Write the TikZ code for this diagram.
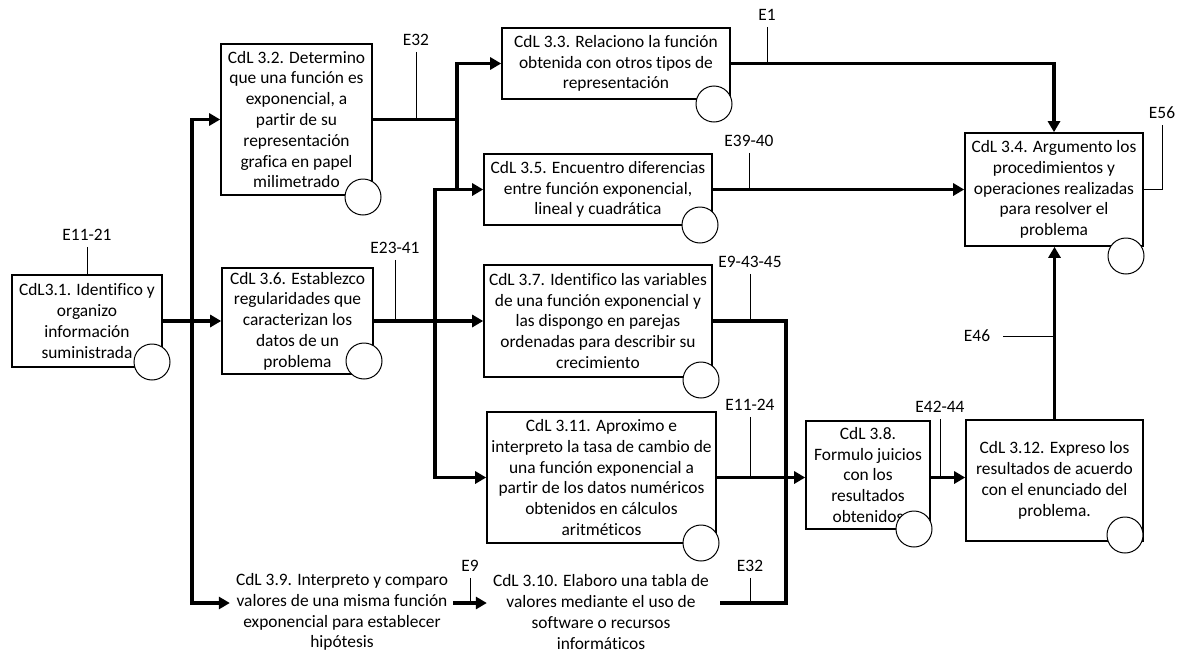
\documentclass[tikz,border=0pt]{standalone}
\usepackage{fontspec}
\setmainfont{Carlito}[RawFeature={-liga;-clig;-calt;-dlig}]
\usetikzlibrary{arrows.meta}
\begin{document}
\begin{tikzpicture}[x=1pt,y=-1pt,
  every node/.style={font=\fontsize{17.4pt}{20.8pt}\selectfont},
  box/.style={draw, line width=1.6pt, fill=white, align=center, inner sep=0pt},
  plain/.style={align=center, inner xsep=6pt, inner ysep=0pt},
  elab/.style={inner xsep=2pt, inner ysep=6pt},
  conn/.style={line width=3.2pt, line cap=rect, line join=miter},
  arr/.style={conn, -{Triangle[length=11pt,width=12pt]}},
  lead/.style={line width=1pt},
  bubble/.style={circle, draw, line width=1pt, fill=white, minimum size=36pt, inner sep=0pt}]
\fill[white] (0,0) rectangle (1179,656);
\useasboundingbox (0,0) rectangle (1179,656);

% boxes
\node[box, minimum width=150pt, minimum height=92pt] (b31) at (87,321)
  {CdL3.1. Identifico y\\organizo\\información\\suministrada};
\node[box, minimum width=151pt, minimum height=151pt] (b32) at (296.5,119.5)
  {CdL 3.2. Determino\\que una función es\\exponencial, a\\partir de su\\representación\\grafica en papel\\milimetrado};
\node[box, minimum width=228pt, minimum height=71pt] (b33) at (616,63.5)
  {CdL 3.3. Relaciono la función\\obtenida con otros tipos de\\representación};
\node[box, minimum width=178pt, minimum height=113pt] (b34) at (1054,189.5)
  {CdL 3.4. Argumento los\\procedimientos y\\operaciones realizadas\\para resolver el\\problema};
\node[box, minimum width=228pt, minimum height=71pt] (b35) at (598,189.5)
  {CdL 3.5. Encuentro diferencias\\entre función exponencial,\\lineal y cuadrática};
\node[box, minimum width=151pt, minimum height=106pt] (b36) at (297.5,321)
  {CdL 3.6. Establezco\\regularidades que\\caracterizan los\\datos de un\\problema};
\node[box, minimum width=228pt, minimum height=112pt] (b37) at (598,321)
  {CdL 3.7. Identifico las variables\\de una función exponencial y\\las dispongo en parejas\\ordenadas para describir su\\crecimiento};
\node[box, minimum width=229pt, minimum height=131pt] (b311) at (601.5,477.5)
  {CdL 3.11. Aproximo e\\interpreto la tasa de cambio de\\una función exponencial a\\partir de los datos numéricos\\obtenidos en cálculos\\aritméticos};
\node[box, minimum width=124pt, minimum height=108pt] (b38) at (868,475)
  {CdL 3.8.\\Formulo juicios\\con los\\resultados\\obtenidos};
\node[box, minimum width=177pt, minimum height=121pt] (b312) at (1054.5,480.5)
  {CdL 3.12. Expreso los\\resultados de acuerdo\\con el enunciado del\\problema.};
\node[plain] (b39) at (342,612)
  {CdL 3.9. Interpreto y comparo\\valores de una misma función\\exponencial para establecer\\hipótesis};
\node[plain] (b310) at (601,612)
  {CdL 3.10. Elaboro una tabla de\\valores mediante el uso de\\software o recursos\\informáticos};

% helper coordinates
\coordinate (spX) at (192,321);
\coordinate (rowB) at (0,603);
\coordinate (j1) at (457,119.5);
\coordinate (j2) at (435,189.5);
\coordinate (j3) at (786,321);
\coordinate (e310) at (722,603);

% connectors
\draw[conn] (spX |- b32.west) -- (spX |- rowB);
\draw[arr] (spX |- b32.west) -- (b32.west);
\draw[arr] (spX |- rowB) -- (b39.west |- rowB);
\draw[arr] (b31.east) -- (b36.west);
\draw[conn] (b32.east) -- (j1);
\draw[arr] (j1) |- (b33.west);
\draw[arr] (j1) |- (b35.west);
\draw[conn] (j2) -- (j2 -| j1);
\draw[arr] (j2) |- (b311.west);
\draw[arr] (b36.east) -- (b37.west);
\draw[conn] (b37.east) -- (j3) -- (j3 |- rowB) -- (e310);
\draw[arr] (b311.east) -- (b311.east -| b38.west);
\draw[arr] (b38.east |- b311.east) -- (b311.east -| b312.west);
\draw[arr] (b312.north) -- (b312.north |- b34.south);
\draw[arr] (b33.east) -| (b34.north);
\draw[arr] (b35.east) -- (b35.east -| b34.west);
\draw[arr] (b39.east |- rowB) -- (b310.west |- rowB);

% evidence labels
\node[elab] (e1121) at (87,235) {E11-21};
\node[elab] (e32a) at (416,40) {E32};
\node[elab] (e1) at (767,15) {E1};
\node[elab] (e56) at (1162,113) {E56};
\node[elab] (e3940) at (749,141) {E39-40};
\node[elab] (e2341) at (395,248) {E23-41};
\node[elab] (e94345) at (750,262) {E9-43-45};
\node[elab] (e1124) at (750,405) {E11-24};
\node[elab] (e4244) at (940,407) {E42-44};
\node[elab] (e46) at (977,336) {E46};
\node[elab] (e9) at (470,566) {E9};
\node[elab] (e32b) at (750,566) {E32};

\draw[lead] (e1121.south) -- (e1121.south |- b31.north);
\draw[lead] (e32a.south) -- (e32a.south |- b32.east);
\draw[lead] (e1.south) -- (e1.south |- b33.east);
\draw[lead] (e56.south) |- (b34.east);
\draw[lead] (e3940.south) -- (e3940.south |- b35.east);
\draw[lead] (e2341.south) -- (e2341.south |- b36.east);
\draw[lead] (e94345.south) -- (e94345.south |- b37.east);
\draw[lead] (e1124.south) -- (e1124.south |- b311.east);
\draw[lead] (e4244.south) -- (e4244.south |- b311.east);
\draw[lead] ([xshift=11pt]e46.east) -- (e46.east -| b34.south);
\draw[lead] (e9.south) -- (e9.south |- rowB);
\draw[lead] (e32b.south) -- (e32b.south |- rowB);

% circles
\node[bubble] (c31) at (152,362) {};
\node[bubble] (c32) at (363,197) {};
\node[bubble] (c33) at (714,104) {};
\node[bubble] (c34) at (1126,256) {};
\node[bubble] (c35) at (700,225) {};
\node[bubble] (c36) at (364,361) {};
\node[bubble] (c37) at (701,380) {};
\node[bubble] (c311) at (701,543) {};
\node[bubble] (c38) at (914,529) {};
\node[bubble] (c312) at (1125,535) {};
\end{tikzpicture}
\end{document}
